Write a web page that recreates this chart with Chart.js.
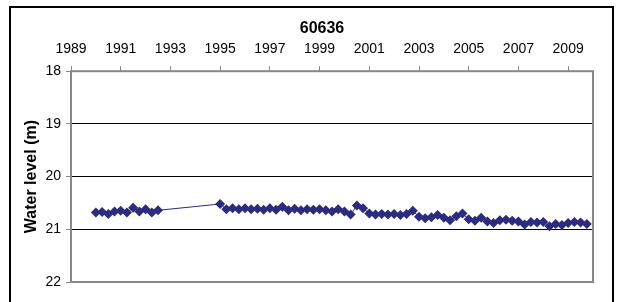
<!DOCTYPE html>
<html>
<head>
<meta charset="utf-8">
<script src="https://cdn.jsdelivr.net/npm/chart.js@4"></script>
<style>
  body { margin: 0; overflow: hidden; background: #fff; }
  #wrap { position: relative; width: 622px; height: 302px; overflow: hidden; }
  #frame { position: absolute; left: 9px; top: 6px; width: 601px; height: 400px;
           border: 2px solid #000; pointer-events: none; }
</style>
</head>
<body>
<div id="wrap">
  <canvas id="chart" width="622" height="302"></canvas>
  <div id="frame"></div>
</div>
<script>
// decimal year of each reading and the water level (m)
const years = [
  1990.0, 1990.25, 1990.5, 1990.75, 1991.0, 1991.25, 1991.5, 1991.75, 1992.0, 1992.25, 1992.5,
  1995.0, 1995.25, 1995.5, 1995.75, 1996.0, 1996.25, 1996.5, 1996.75, 1997.0, 1997.25,
  1997.5, 1997.75, 1998.0, 1998.25, 1998.5, 1998.75, 1999.0, 1999.25, 1999.5, 1999.75,
  2000.0, 2000.25, 2000.5, 2000.75, 2001.0, 2001.25, 2001.5, 2001.75, 2002.0, 2002.25,
  2002.5, 2002.75, 2003.0, 2003.25, 2003.5, 2003.75, 2004.0, 2004.25, 2004.5, 2004.75,
  2005.0, 2005.25, 2005.5, 2005.75, 2006.0, 2006.25, 2006.5, 2006.75, 2007.0, 2007.25,
  2007.5, 2007.75, 2008.0, 2008.25, 2008.5, 2008.75, 2009.0, 2009.25, 2009.5, 2009.75
];
const levels = [
  20.68, 20.67, 20.71, 20.66, 20.65, 20.68, 20.59, 20.66, 20.62, 20.68, 20.64,
  20.52, 20.62, 20.60, 20.62, 20.60, 20.62, 20.61, 20.63, 20.60, 20.63,
  20.57, 20.64, 20.61, 20.64, 20.62, 20.63, 20.62, 20.64, 20.66, 20.62,
  20.66, 20.72, 20.55, 20.60, 20.70, 20.72, 20.71, 20.72, 20.71, 20.73,
  20.71, 20.65, 20.76, 20.79, 20.77, 20.73, 20.78, 20.83, 20.75, 20.70,
  20.81, 20.84, 20.78, 20.85, 20.88, 20.83, 20.82, 20.84, 20.85, 20.91,
  20.86, 20.87, 20.86, 20.94, 20.90, 20.92, 20.88, 20.86, 20.87, 20.90
];
const tickYears = [1989, 1991, 1993, 1995, 1997, 1999, 2001, 2003, 2005, 2007, 2009];
const tickLevels = [18, 19, 20, 21, 22];

const points = years.map((x, i) => ({x: x, y: levels[i]}));
const navy = '#2c2b7e';
const font = 'Liberation Sans';

// gray box around the plot area
const plotFrame = {
  id: 'plotFrame',
  beforeDatasetsDraw(chart) {
    const a = chart.chartArea;
    const ctx = chart.ctx;
    ctx.save();
    ctx.strokeStyle = '#888';
    ctx.lineWidth = 2;
    ctx.strokeRect(a.left, a.top, a.right - a.left, a.bottom - a.top);
    ctx.restore();
  }
};

new Chart(document.getElementById('chart'), {
  type: 'line',
  data: {
    datasets: [{
      data: points,
      borderColor: navy,
      borderWidth: 1,
      pointStyle: 'rectRot',
      pointRadius: 5,
      pointBackgroundColor: navy,
      pointBorderColor: navy,
      pointBorderWidth: 0,
      tension: 0
    }]
  },
  options: {
    responsive: false,
    devicePixelRatio: 1,
    animation: false,
    layout: { padding: { left: 22, right: 0, top: 0, bottom: 20 } },
    plugins: {
      legend: { display: false },
      tooltip: { enabled: false },
      title: {
        display: true,
        text: '60636',
        color: '#000',
        font: { family: font, size: 16, weight: 'bold' },
        padding: { top: 19, bottom: 2 }
      }
    },
    scales: {
      x: {
        type: 'linear',
        position: 'top',
        min: 1989,
        max: 2010,
        afterBuildTicks: axis => { axis.ticks = tickYears.map(v => ({value: v})); },
        afterFit: axis => { axis.height = 31; },
        grid: { drawOnChartArea: false, drawTicks: true, tickLength: 5, tickColor: '#888' },
        border: { display: false },
        ticks: {
          color: '#000',
          font: { family: font, size: 14 },
          padding: 9,
          maxRotation: 0,
          autoSkip: false,
          callback: v => String(v)
        }
      },
      y: {
        reverse: true,
        min: 18,
        max: 22,
        afterBuildTicks: axis => { axis.ticks = tickLevels.map(v => ({value: v})); },
        afterFit: axis => { axis.width = 49; },
        grid: {
          color: c => (c.tick && (c.tick.value === 18 || c.tick.value === 22)) ? 'rgba(0,0,0,0)' : '#000',
          lineWidth: 1,
          tickLength: 5,
          tickColor: '#888'
        },
        border: { display: false },
        ticks: {
          color: '#000',
          font: { family: font, size: 14 },
          padding: 5
        },
        title: {
          display: true,
          text: 'Water level (m)',
          color: '#000',
          font: { family: font, size: 16, weight: 'bold' },
          padding: { top: 0, bottom: 0 }
        }
      },
      y2: {
        position: 'right',
        min: 18,
        max: 22,
        afterFit: axis => { axis.width = 29; },
        grid: { display: false },
        border: { display: false },
        ticks: { display: false }
      }
    }
  },
  plugins: [plotFrame]
});
</script>
</body>
</html>
